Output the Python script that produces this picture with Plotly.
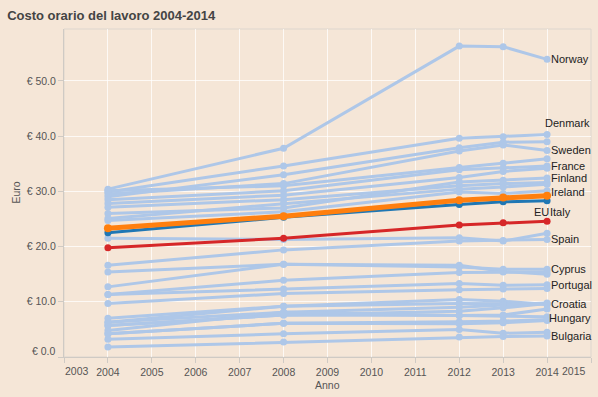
import plotly.graph_objects as go

years = [2004, 2008, 2012, 2013, 2014]

# light-blue country series (euro per hour)
countries = {
    "Norway":      [30.4, 37.8, 56.3, 56.2, 53.9],
    "Denmark":     [29.9, 34.6, 39.6, 39.9, 40.3],
    "Belgium":     [29.0, 33.0, 37.9, 38.9, 39.0],
    "Sweden":      [29.5, 31.4, 37.3, 38.4, 37.4],
    "Luxembourg":  [30.1, 31.0, 34.3, 35.1, 35.9],
    "France":      [28.5, 30.1, 33.9, 34.2, 34.6],
    "Netherlands": [27.8, 29.3, 32.5, 33.6, 34.2],
    "Finland":     [26.0, 27.0, 31.7, 32.0, 32.4],
    "Germany":     [27.1, 28.5, 31.0, 31.4, 31.6],
    "Austria":     [25.1, 27.8, 30.4, 30.8, 31.3],
    "Ireland":     [24.7, 26.3, 29.9, 29.6, 30.1],
    "United Kingdom": [21.5, 21.3, 21.6, 21.0, 22.4],
    "Spain":       [16.6, 19.4, 21.0, 21.1, 21.3],
    "Greece":      [15.4, 16.8, 16.6, 15.5, 15.0],
    "Cyprus":      [12.7, 16.8, 16.3, 15.9, 15.9],
    "Slovenia":    [11.3, 13.9, 15.3, 15.4, 15.4],
    "Portugal":    [11.3, 12.3, 13.3, 13.0, 13.1],
    "Malta":       [9.7, 11.5, 12.2, 12.3, 12.4],
    "Czech Republic": [6.3, 9.2, 10.4, 10.1, 9.5],
    "Croatia":     [7.0, 9.2, 9.7, 9.6, 9.6],
    "Estonia":     [4.8, 8.1, 9.0, 9.4, 9.8],
    "Slovakia":    [5.7, 7.6, 8.3, 8.9, 9.7],
    "Poland":      [5.7, 7.6, 7.5, 7.6, 8.7],
    "Hungary":     [6.3, 8.1, 7.5, 7.4, 7.3],
    "Lithuania":   [4.2, 6.1, 6.4, 6.5, 6.8],
    "Latvia":      [4.2, 6.1, 6.0, 6.2, 6.6],
    "Romania":     [3.2, 4.2, 5.0, 4.3, 4.5],
    "Bulgaria":    [1.8, 2.7, 3.6, 3.7, 3.8],
}

eu28 = [19.8, 21.5, 23.9, 24.3, 24.6]
italy = [22.5, 25.3, 27.6, 28.1, 28.3]
euro_area = [23.3, 25.5, 28.4, 28.9, 29.2]

x_ticks = list(range(2003, 2016))
y_ticks = [0, 10, 20, 30, 40, 50]

# end labels: (text, series key, pixel y offset, pixel x shift)
end_labels = [
    ("Norway", "Norway", 0, 2), ("Denmark", "Denmark", 11, -4),
    ("Sweden", "Sweden", 0, 2), ("France", "France", 0, 2),
    ("Finland", "Finland", 0, 2), ("Ireland", "Ireland", -1, 2),
    ("EU", "EU", 9, -15), ("Italy", "Italy", -11, 1),
    ("Spain", "Spain", 0, 2), ("Cyprus", "Cyprus", 0, 2),
    ("Portugal", "Portugal", 0, 2), ("Croatia", "Croatia", 0, 2),
    ("Hungary", "Hungary", -1, 0), ("Bulgaria", "Bulgaria", 0, 2),
]

BG = "#f5e6d7"
LB = "#aec7e8"
FONT = "Liberation Sans, Arial, sans-serif"
TXT = "#555555"

fig = go.Figure()
for name, vals in countries.items():
    fig.add_trace(go.Scatter(x=years, y=vals, name=name, mode="lines+markers",
                             line=dict(color=LB, width=3),
                             marker=dict(color=LB, size=7)))
fig.add_trace(go.Scatter(x=years, y=eu28, name="EU", mode="lines+markers",
                         line=dict(color="#d62728", width=3),
                         marker=dict(color="#d62728", size=7)))
fig.add_trace(go.Scatter(x=years, y=italy, name="Italy", mode="lines+markers",
                         line=dict(color="#1f77b4", width=3),
                         marker=dict(color="#1f77b4", size=7)))
fig.add_trace(go.Scatter(x=years, y=euro_area, name="Euro area", mode="lines+markers",
                         line=dict(color="#ff7f0e", width=5),
                         marker=dict(color="#ff7f0e", size=8)))

all_series = dict(countries)
all_series["EU"] = eu28
all_series["Italy"] = italy

annotations = []
for text, key, dy, dx in end_labels:
    annotations.append(dict(x=years[-1], y=all_series[key][-1], xref="x", yref="y",
                            text=text, showarrow=False, xanchor="left", yanchor="middle",
                            xshift=dx, yshift=dy,
                            font=dict(family=FONT, size=11, color="#222222")))

# flush end tick labels
annotations.append(dict(x=0, y=0, xref="paper", yref="paper", text="€ 0.0",
                        showarrow=False, xanchor="right", yanchor="bottom",
                        xshift=-6, yshift=-2,
                        font=dict(family=FONT, size=10.5, color=TXT)))
annotations.append(dict(x=x_ticks[0], y=0, xref="x", yref="paper", text=str(x_ticks[0]),
                        showarrow=False, xanchor="left", yanchor="top", yshift=-6,
                        xshift=-1, font=dict(family=FONT, size=10.5, color=TXT)))
annotations.append(dict(x=x_ticks[-1], y=0, xref="x", yref="paper", text=str(x_ticks[-1]),
                        showarrow=False, xanchor="right", yanchor="top", yshift=-6,
                        xshift=-3, font=dict(family=FONT, size=10.5, color=TXT)))
# axis titles
annotations.append(dict(x=-0.092, y=0.5, xref="paper", yref="paper", text="Euro",
                        showarrow=False, textangle=-90, xanchor="center", yanchor="middle",
                        font=dict(family=FONT, size=10.5, color=TXT)))
annotations.append(dict(x=0.5, y=-0.085, xref="paper", yref="paper", text="Anno",
                        showarrow=False, xanchor="center", yanchor="middle",
                        font=dict(family=FONT, size=10.5, color=TXT)))

x_text = [("" if (t == x_ticks[0] or t == x_ticks[-1]) else str(t)) for t in x_ticks]
y_text = [("" if v == 0 else f"€ {v:.1f}") for v in y_ticks]

fig.update_layout(
    width=598, height=397,
    margin=dict(l=63.5, r=7, t=29, b=40, autoexpand=False),
    paper_bgcolor=BG, plot_bgcolor=BG,
    showlegend=False,
    title=dict(text="<b>Costo orario del lavoro 2004-2014</b>", x=0.012, xanchor="left",
               y=0.96, yanchor="middle",
               font=dict(family=FONT, size=13, color="#444444")),
    font=dict(family=FONT, size=10.5, color=TXT),
    annotations=annotations,
    xaxis=dict(range=[2003, 2015], tickvals=x_ticks, ticktext=x_text, automargin=False,
               showgrid=True, gridcolor="rgba(255,255,255,0.75)", gridwidth=1,
               zeroline=False, showline=True, linecolor="#cfcac4", linewidth=1,
               ticks="outside", ticklen=5, tickcolor="#cfcac4",
               tickfont=dict(size=10.5, color=TXT)),
    yaxis=dict(range=[0, 59.4], tickvals=y_ticks, ticktext=y_text, automargin=False,
               showgrid=True, gridcolor="rgba(255,255,255,0.75)", gridwidth=1,
               zeroline=False, showline=True, linecolor="#cfcac4", linewidth=1,
               ticks="outside", ticklen=5, tickcolor="#cfcac4",
               tickfont=dict(size=10.5, color=TXT)),
    shapes=[dict(type="rect", xref="paper", yref="paper", x0=0, x1=1, y0=0, y1=1,
                 line=dict(color="#ddd6ce", width=1), fillcolor="rgba(0,0,0,0)", layer="below")],
)

fig.write_html("out.html", config={"displayModeBar": False},
               post_script="document.body.style.margin='0';document.body.style.background='#f5e6d7';")
